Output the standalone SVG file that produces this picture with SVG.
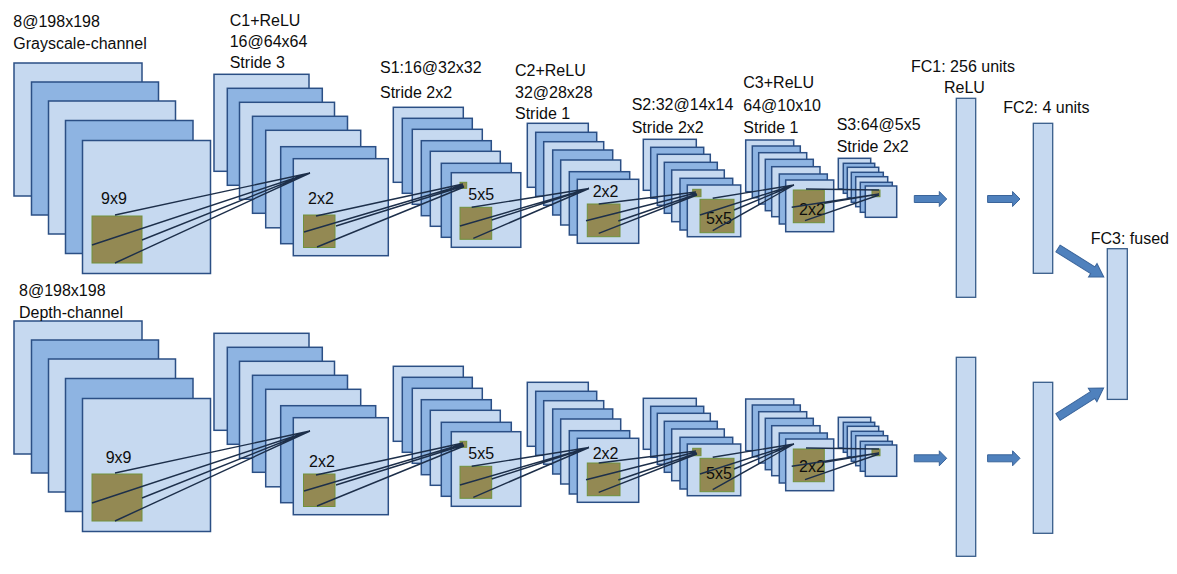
<svg xmlns="http://www.w3.org/2000/svg" width="1177" height="574" viewBox="0 0 1177 574">
<style>
.l{fill:#c6d9f0;stroke:#2b4f85;stroke-width:1.5}
.d{fill:#8eb4e2;stroke:#2b4f85;stroke-width:1.5}
.p{fill:#938953;stroke:#71913d;stroke-width:1}
.c{stroke:#1d2f4a;stroke-width:1.4;fill:none}
.t{font-family:"Liberation Sans",Arial,sans-serif;font-size:16px;fill:#0d0d0d}
.fc{fill:#c6d9f0;stroke:#385d8a;stroke-width:1.3}
.ar{fill:#4f81bd;stroke:#3a649a;stroke-width:1}
</style>
<defs>
<g id="input-stack">
<rect class="l" x="14" y="63" width="128" height="133"/>
<rect class="d" x="31.5" y="82" width="127" height="133"/>
<rect class="l" x="48.5" y="101" width="127" height="133"/>
<rect class="d" x="65.5" y="120.5" width="127.5" height="133"/>
<rect class="l" x="82.5" y="140.5" width="128" height="133"/>
<rect class="p" x="92" y="216" width="50" height="47"/>
</g>
<g id="c1-stack">
<rect class="l" x="214" y="74.3" width="95" height="97"/>
<rect class="d" x="227.3" y="88.3" width="95" height="97"/>
<rect class="l" x="239.5" y="102.3" width="95" height="97"/>
<rect class="d" x="252.5" y="116.3" width="95" height="97"/>
<rect class="l" x="265.7" y="130.3" width="95" height="97.5"/>
<rect class="d" x="280.7" y="146.7" width="95" height="97"/>
<rect class="l" x="293.3" y="158.7" width="95" height="97"/>
<rect class="p" x="303.5" y="215" width="31.5" height="32.5"/>
</g>
<g id="s1-stack">
<rect class="l" x="393.3" y="107.3" width="70" height="75"/>
<rect class="d" x="402.3" y="118.3" width="70" height="75"/>
<rect class="l" x="412.3" y="129.3" width="70" height="75"/>
<rect class="d" x="421.3" y="140.7" width="70" height="75"/>
<rect class="l" x="430.3" y="151.3" width="70" height="75"/>
<rect class="d" x="441.3" y="163.3" width="70" height="74"/>
<rect class="l" x="451.3" y="172.7" width="69.5" height="74.6"/>
<rect class="p" x="460" y="182.3" width="6.7" height="6"/>
<rect class="p" x="460" y="207.3" width="31.7" height="32"/>
</g>
<g id="c2-stack">
<rect class="l" x="527.3" y="123.3" width="61" height="64"/>
<rect class="d" x="535.7" y="132.3" width="61" height="64"/>
<rect class="l" x="543.7" y="141.7" width="60" height="63.5"/>
<rect class="d" x="552.7" y="150" width="60" height="65"/>
<rect class="l" x="560.7" y="160" width="60" height="65"/>
<rect class="d" x="569.3" y="171.7" width="60.4" height="63.3"/>
<rect class="l" x="577.3" y="179.3" width="61.4" height="64"/>
<rect class="p" x="587.3" y="204" width="32.7" height="32.7"/>
</g>
<g id="s2-stack">
<rect class="l" x="643.3" y="139.3" width="53" height="51"/>
<rect class="d" x="650.7" y="147.3" width="53" height="51"/>
<rect class="l" x="657.3" y="154.3" width="53" height="51"/>
<rect class="d" x="664.3" y="162.3" width="53" height="51"/>
<rect class="l" x="671.7" y="170" width="52.6" height="51.7"/>
<rect class="d" x="680" y="178.3" width="52.7" height="51.7"/>
<rect class="l" x="687.3" y="185" width="53.4" height="51.7"/>
<rect class="p" x="692.7" y="189.3" width="8.3" height="7.4"/>
<rect class="p" x="700" y="199.3" width="34" height="33.4"/>
</g>
<g id="c3-stack">
<rect class="l" x="745.7" y="140" width="48" height="51.7"/>
<rect class="d" x="752.3" y="146" width="48" height="51.7"/>
<rect class="l" x="758.7" y="152.7" width="48" height="51.3"/>
<rect class="d" x="765.3" y="159.3" width="48" height="51.4"/>
<rect class="l" x="771.7" y="166.7" width="48.3" height="50"/>
<rect class="d" x="779.3" y="174" width="48" height="50"/>
<rect class="l" x="785.7" y="180" width="48" height="51.7"/>
<rect class="p" x="793.3" y="190" width="31" height="32.7"/>
</g>
<g id="s3-stack">
<rect class="l" x="838.3" y="158.3" width="32.4" height="30.7"/>
<rect class="d" x="843.3" y="163.3" width="31.4" height="30"/>
<rect class="l" x="847.3" y="167.3" width="31.4" height="30.4"/>
<rect class="d" x="851.3" y="172.3" width="32" height="30"/>
<rect class="l" x="855.7" y="176.7" width="32" height="30"/>
<rect class="d" x="860.3" y="182.3" width="32" height="30"/>
<rect class="l" x="865.3" y="186" width="31.4" height="31.3"/>
<rect class="p" x="872" y="190" width="8" height="6.7"/>
</g>
<path id="lines-a" d="M115,215L310,173M92,245L310,173M142,240L310,173M115,263L310,173"/>
<path id="lines-rest" d="M316,216L463,184M304,232L463,185M336,226L464,186M317,247L464,187M471.7,207.3L589,188.5M460,226L589,188.5M491.7,220L589,188.5M473.3,238.3L589,188.5M598.7,204L696,192M586,220.7L696,193M618.3,221L697,194M598.7,233.3L697,195M712.7,198.3L794,185M700,215L794,185M734,210L794,185M712.7,230.7L794,185M806,189L879,190M791.7,207.3L879,194M824.3,203.3L879,194M805,220.7L879,195"/>
<path id="harrow" d="M0,-3.5H25V-7.5L32.4,0L25,7.5V3.5H0Z"/>
<path id="darrow" d="M0,-4H41V-8L54,0L41,8V4H0Z"/>
</defs>

<!-- top row (grayscale) -->
<g id="node-input-gray"><use href="#input-stack"/><text class="t" x="101" y="203.5">9x9</text></g>
<g id="node-c1-gray"><use href="#c1-stack"/><text class="t" x="308" y="204">2x2</text></g>
<g id="node-s1-gray"><use href="#s1-stack"/><text class="t" x="468.3" y="200">5x5</text></g>
<g id="node-c2-gray"><use href="#c2-stack"/><text class="t" x="592.7" y="197">2x2</text></g>
<g id="node-s2-gray"><use href="#s2-stack"/><text class="t" x="706" y="224">5x5</text></g>
<g id="node-c3-gray"><use href="#c3-stack"/><text class="t" x="799" y="215">2x2</text></g>
<g id="node-s3-gray"><use href="#s3-stack"/></g>

<!-- bottom row (depth) -->
<g id="node-input-depth" transform="translate(0,258)"><use href="#input-stack"/><text class="t" x="105.7" y="204.5">9x9</text></g>
<g id="node-c1-depth" transform="translate(0,259)"><use href="#c1-stack"/><text class="t" x="309" y="208">2x2</text></g>
<g id="node-s1-depth" transform="translate(0,259)"><use href="#s1-stack"/><text class="t" x="468.3" y="200.3">5x5</text></g>
<g id="node-c2-depth" transform="translate(0,259)"><use href="#c2-stack"/><text class="t" x="592.7" y="200">2x2</text></g>
<g id="node-s2-depth" transform="translate(0,259)"><use href="#s2-stack"/><text class="t" x="706" y="220">5x5</text></g>
<g id="node-c3-depth" transform="translate(0,259)"><use href="#c3-stack"/><text class="t" x="799" y="213">2x2</text></g>
<g id="node-s3-depth" transform="translate(0,259)"><use href="#s3-stack"/></g>

<!-- fully connected -->
<g id="node-fc1-gray"><rect class="fc" x="956.3" y="98.3" width="19.4" height="199"/></g>
<g id="node-fc2-gray"><rect class="fc" x="1033.3" y="123.3" width="19.4" height="150"/></g>
<g id="node-fc3"><rect class="fc" x="1107.3" y="248.7" width="20" height="150.7"/></g>
<g id="node-fc1-depth"><rect class="fc" x="956.3" y="357.3" width="19.4" height="199"/></g>
<g id="node-fc2-depth"><rect class="fc" x="1033.3" y="382.3" width="19.4" height="151"/></g>

<!-- connectors -->
<g id="connectors">
<use href="#lines-a" class="c"/>
<use href="#lines-rest" class="c"/>
<use href="#lines-a" class="c" transform="translate(0,258)"/>
<use href="#lines-rest" class="c" transform="translate(0,259)"/>
<use href="#harrow" class="ar" transform="translate(914.3,199)"/>
<use href="#harrow" class="ar" transform="translate(987.6,199)"/>
<use href="#harrow" class="ar" transform="translate(914.3,458.3)"/>
<use href="#harrow" class="ar" transform="translate(987.6,458.3)"/>
<use href="#darrow" class="ar" transform="translate(1058,248.5) rotate(32)"/>
<use href="#darrow" class="ar" transform="translate(1058,417) rotate(-32.4)"/>
</g>

<!-- labels -->
<g id="labels" class="t">
<text class="t" x="13.3" y="26.5">8@198x198</text>
<text class="t" x="13.3" y="49">Grayscale-channel</text>
<text class="t" x="229.7" y="25.7">C1+ReLU</text>
<text class="t" x="229.7" y="47.3">16@64x64</text>
<text class="t" x="229.7" y="68.3">Stride 3</text>
<text class="t" x="380" y="72.7">S1:16@32x32</text>
<text class="t" x="380" y="98">Stride 2x2</text>
<text class="t" x="515" y="75.7">C2+ReLU</text>
<text class="t" x="515" y="98.3">32@28x28</text>
<text class="t" x="515" y="119.3">Stride 1</text>
<text class="t" x="631.7" y="110">S2:32@14x14</text>
<text class="t" x="631.7" y="132.5">Stride 2x2</text>
<text class="t" x="743.3" y="87.7">C3+ReLU</text>
<text class="t" x="743.3" y="110.5">64@10x10</text>
<text class="t" x="743.3" y="132.5">Stride 1</text>
<text class="t" x="836.7" y="130">S3:64@5x5</text>
<text class="t" x="836.7" y="151.5">Stride 2x2</text>
<text class="t" x="911" y="71.5">FC1: 256 units</text>
<text class="t" x="944" y="93.3">ReLU</text>
<text class="t" x="1003.3" y="112.5">FC2: 4 units</text>
<text class="t" x="1090.7" y="244">FC3: fused</text>
<text class="t" x="19" y="295.7">8@198x198</text>
<text class="t" x="19" y="318.3">Depth-channel</text>
</g>
</svg>
